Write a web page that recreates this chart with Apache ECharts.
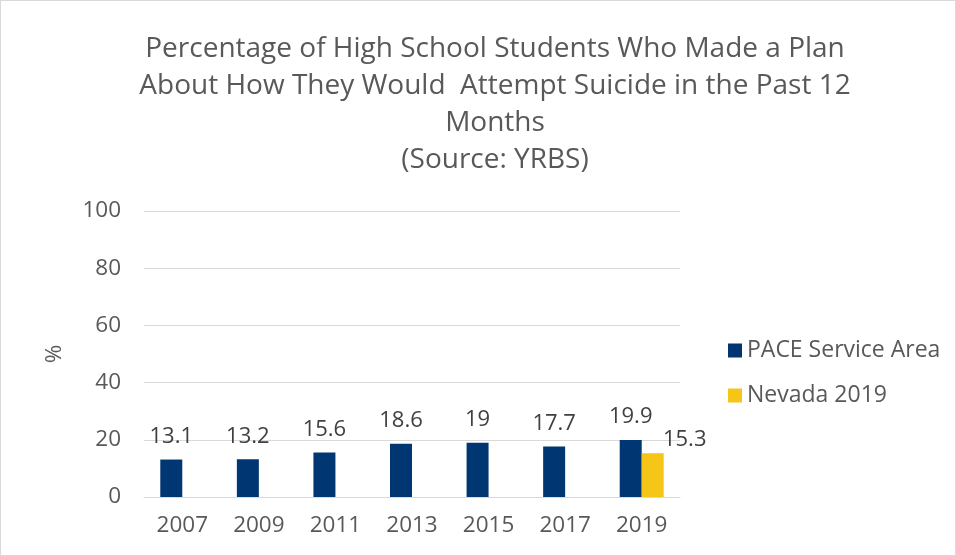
<!DOCTYPE html>
<html><head><meta charset="utf-8">
<script src="https://cdn.jsdelivr.net/npm/echarts@6/dist/echarts.min.js"></script>
<style>html,body{margin:0;padding:0;background:#fff}#c{width:956px;height:556px;box-sizing:border-box;border:1px solid #d9d9d9}</style>
</head><body><div id="c"></div>
<script>
const categories = ['2007','2009','2011','2013','2015','2017','2019'];
const paceValues = [13.1, 13.2, 15.6, 18.6, 19, 17.7, 19.9];
const nevadaValues = [null, null, null, null, null, null, 15.3];
const yTicks = [0, 20, 40, 60, 80, 100];

const chart = echarts.init(document.getElementById('c'));
const font = 'Open Sans, Noto Sans, sans-serif';
chart.setOption({
  animation: false,
  title: {
    text: 'Percentage of High School Students Who Made a Plan\nAbout How They Would  Attempt Suicide in the Past 12\nMonths\n(Source: YRBS)',
    left: 489, top: 25, textAlign: 'center',
    textStyle: {fontFamily: font, fontSize: 28, fontWeight: 'normal', color: '#595959', lineHeight: 37}
  },
  legend: {
    orient: 'vertical', left: 722, top: 333, itemGap: 22,
    itemWidth: 14, itemHeight: 14, icon: 'rect',
    textStyle: {fontFamily: font, fontSize: 23, color: '#595959'},
    data: ['PACE Service Area', 'Nevada 2019']
  },
  grid: {left: 143, right: 275, top: 210, bottom: 58},
  xAxis: {
    type: 'category', data: categories,
    axisLine: {lineStyle: {color: '#d9d9d9'}}, axisTick: {show: false},
    axisLabel: {fontFamily: font, fontSize: 22.5, color: '#595959', margin: 17}
  },
  yAxis: {
    type: 'value', min: 0, max: 100, interval: 20,
    name: '%', nameLocation: 'middle', nameGap: 78, nameRotate: 90,
    nameTextStyle: {fontFamily: font, fontSize: 22.5, color: '#595959'},
    axisLine: {show: false}, axisTick: {show: false},
    axisLabel: {fontFamily: font, fontSize: 22.5, color: '#595959', margin: 23,
      formatter: v => yTicks.includes(v) ? String(v) : ''},
    splitLine: {lineStyle: {color: '#d9d9d9', width: 1}}
  },
  series: [
    {name: 'PACE Service Area', type: 'bar', data: paceValues, barWidth: 22, barGap: '0%',
      itemStyle: {color: '#003671'},
      label: {show: true, position: 'top', distance: 12, fontFamily: font, fontSize: 22, color: '#404040'}},
    {name: 'Nevada 2019', type: 'bar', data: nevadaValues, barWidth: 22,
      itemStyle: {color: '#f5c518'},
      label: {show: true, position: 'top', distance: 3, offset: [32, 0], fontFamily: font, fontSize: 22, color: '#404040'}}
  ]
});
</script></body></html>
